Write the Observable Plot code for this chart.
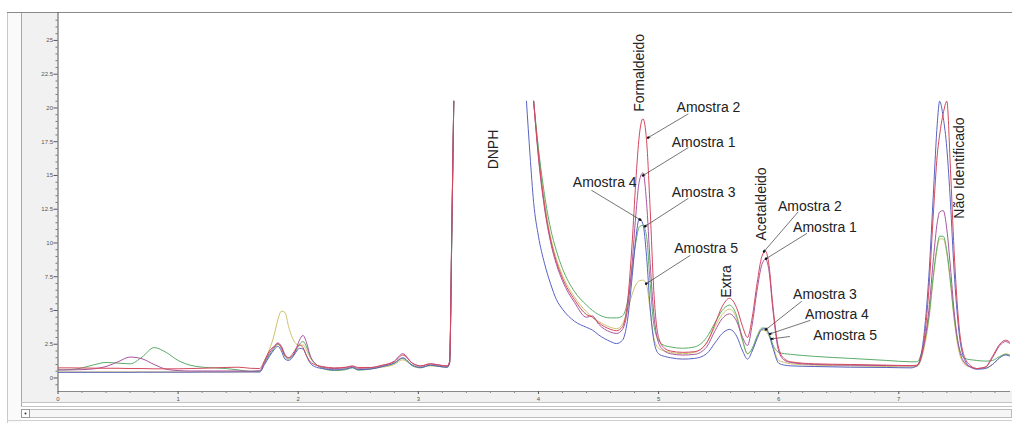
<!DOCTYPE html>
<html><head><meta charset="utf-8">
<script src="https://cdn.jsdelivr.net/npm/d3@7"></script>
<script src="https://cdn.jsdelivr.net/npm/@observablehq/plot@0.6"></script>
<style>html,body{margin:0;padding:0;background:#fff;} svg{display:block}</style>
</head><body><div id="chart"></div>
<script>
// retention time (min)
const time = [
  0, 0.1, 0.2, 0.3, 0.4, 0.5, 0.6, 0.7, 0.8, 0.9, 1.0, 1.1, 1.2, 1.3, 1.4, 1.5, 1.6,
  1.68, 1.72, 1.76, 1.8, 1.83, 1.86, 1.89, 1.92, 1.95, 1.98, 2.01, 2.04, 2.07, 2.1, 2.15, 2.2,
  2.3, 2.4, 2.45, 2.5, 2.6, 2.7, 2.8, 2.87, 2.95, 3.02, 3.1, 3.18, 3.24, 3.26, 3.28, 3.295,
  3.6,
  3.9, 3.93, 3.96, 4.0, 4.05, 4.1, 4.15, 4.2, 4.3, 4.4, 4.45, 4.5, 4.6, 4.65, 4.7,
  4.74, 4.78, 4.81, 4.84, 4.87, 4.9, 4.93, 4.96, 5.0, 5.05, 5.1,
  5.2, 5.3, 5.4, 5.47, 5.53, 5.59, 5.65, 5.7, 5.74,
  5.78, 5.82, 5.86, 5.89, 5.92, 5.95, 6.0, 6.05, 6.1,
  6.3, 6.6, 6.9, 7.1,
  7.15, 7.2, 7.25, 7.29, 7.32, 7.34, 7.37, 7.4, 7.43, 7.46, 7.5, 7.55, 7.6,
  7.65, 7.72, 7.78, 7.84, 7.89, 7.93
];
// signals (null = off-scale / not drawn)
const amostra2 = [
  0.75, 0.75, 0.74, 0.73, 0.72, 0.72, 0.7, 0.7, 0.68, 0.68, 0.68, 0.7, 0.72, 0.75, 0.78, 0.8, 0.72,
  0.7, 1.3, 2.0, 2.35, 2.55, 2.25, 1.65, 1.5, 1.75, 2.15, 2.45, 2.25, 1.65, 1.2, 0.95, 0.85,
  0.75, 0.8, 0.9, 0.78, 0.78, 0.95, 1.2, 1.7, 1.1, 0.9, 1.05, 0.95, 0.9, 1.2, 12, 20.5,
  null,
  null, null, 20.5, 16.5, 12.8, 10.3, 8.6, 7.4, 5.8, 4.7, 4.5, 4.1, 3.6, 3.5, 3.8,
  5.5, 10.0, 14.5, 18.0, 19.2, 17.6, 12.5, 6.5, 3.0, 2.2, 2.0,
  1.9, 1.95, 2.6, 4.0, 5.3, 5.9, 5.2, 3.8, 3.0,
  4.5, 7.0, 9.0, 9.4, 8.3, 5.5, 2.2, 1.4, 1.2,
  1.05, 1.0, 0.95, 0.92,
  0.95, 2.2, 6.5, 12.5, 16.5, 18.0, 19.6, 20.5, 15.5, 9.5, 4.0, 1.5, 0.9,
  0.7, 0.8, 1.6, 2.5, 2.8, 2.6
];
const amostra1 = [
  0.6, 0.6, 0.62, 0.68, 0.85, 1.2, 1.55, 1.42, 1.0, 0.65, 0.55, 0.52, 0.52, 0.52, 0.52, 0.52, 0.5,
  0.55, 1.2, 1.85, 2.3, 2.6, 2.35, 1.75, 1.5, 1.6, 2.1, 2.8, 3.15, 2.6, 1.65, 1.0, 0.8,
  0.7, 0.78, 0.85, 0.72, 0.75, 0.92, 1.25, 1.8, 1.1, 0.88, 1.05, 0.95, 0.88, 1.2, 12, 20.5,
  null,
  null, null, 20.5, 16.3, 12.6, 10.1, 8.4, 7.2, 5.6, 4.5, 4.6, 4.0, 3.4, 3.3, 3.6,
  5.0, 8.5, 12.0, 14.6, 15.2, 13.0, 8.5, 4.8, 2.6, 2.0, 1.8,
  1.7, 1.75, 2.3, 3.5, 4.4, 4.75, 4.2, 3.0, 2.4,
  4.0, 6.5, 8.4, 8.8, 7.9, 5.2, 2.0, 1.3, 1.15,
  1.0, 0.95, 0.92, 0.9,
  0.9, 2.0, 5.0, 9.0, 11.5, 12.3, 12.4, 11.0, 8.2, 5.0, 2.3, 1.1, 0.8,
  0.7, 0.8, 1.5, 2.4, 2.7, 2.5
];
const amostra4 = [
  0.42, 0.42, 0.42, 0.42, 0.42, 0.42, 0.42, 0.43, 0.43, 0.43, 0.43, 0.43, 0.44, 0.44, 0.44, 0.45, 0.45,
  0.45, 1.0, 1.6, 2.1, 2.35, 2.0, 1.4, 1.3, 1.5, 1.9, 2.2, 2.15, 1.6, 1.1, 0.8, 0.7,
  0.6, 0.68, 0.78, 0.62, 0.66, 0.85, 1.1, 1.5, 0.95, 0.78, 0.95, 0.85, 0.8, 1.1, 11.5, 20.5,
  null,
  20.5, 16.5, 13.0, 10.5, 8.5, 7.0, 5.8, 5.1, 4.2, 3.75, 3.55, 3.2, 2.7, 2.55, 2.8,
  4.2, 7.5, 10.3, 11.8, 11.4, 9.0, 5.2, 2.8, 1.8, 1.6, 1.5,
  1.4, 1.45, 1.8, 2.6, 3.3, 3.6, 3.1, 2.0, 1.4,
  2.0, 2.9, 3.6, 3.65, 3.2, 2.3, 1.1, 0.95, 0.9,
  0.85, 0.8, 0.78, 0.75,
  0.9, 2.5, 7.5, 14.0, 18.8, 20.5, 19.3, 17.0, 13.0, 8.0, 3.5, 1.3, 0.8,
  0.65, 0.7, 1.0, 1.5, 1.7, 1.6
];
const amostra3 = [
  0.6, 0.62, 0.75, 0.98, 1.15, 1.1, 1.05, 1.55, 2.25, 1.9, 1.3, 0.95, 0.8, 0.75, 0.7, 0.6, 0.5,
  0.5, 1.1, 1.7, 2.2, 2.5, 2.2, 1.6, 1.4, 1.6, 2.0, 2.5, 2.7, 2.3, 1.6, 1.0, 0.72,
  0.55, 0.62, 0.75, 0.58, 0.66, 0.85, 1.1, 1.45, 0.9, 0.75, 0.95, 0.85, 0.8, 1.1, 11.5, 20.5,
  null,
  null, null, 20.5, 17.0, 13.6, 11.1, 9.4, 8.1, 6.4, 5.4, 5.0, 4.7, 4.45, 4.45, 4.6,
  5.6, 8.0, 10.0, 11.2, 11.3, 10.5, 7.0, 4.0, 2.8, 2.4, 2.3,
  2.2, 2.3, 3.0, 4.1, 5.0, 5.4, 4.6, 2.8, 1.8,
  2.2, 3.1, 3.7, 3.7, 3.3, 2.5, 1.9, 1.8, 1.75,
  1.6, 1.45, 1.3, 1.2,
  1.2, 2.2, 4.5, 7.8, 9.8, 10.5, 10.5, 9.4, 7.2, 4.6, 2.3, 1.45, 1.35,
  1.3, 1.25, 1.3, 1.6, 1.75, 1.65
];
const amostra5 = [
  0.45, 0.45, 0.45, 0.45, 0.45, 0.45, 0.45, 0.45, 0.45, 0.45, 0.45, 0.45, 0.45, 0.45, 0.45, 0.45, 0.45,
  0.45, 1.3, 2.1, 3.2, 4.3, 4.95, 4.85, 3.8, 3.0, 2.55, 2.4, 2.45, 2.05, 1.5, 1.0, 0.8,
  0.65, 0.72, 0.8, 0.66, 0.7, 0.8, 1.0, 1.35, 0.95, 0.8, 0.9, 0.85, 0.8, 1.1, 11.5, 20.5,
  null,
  null, null, 20.5, 16.8, 13.1, 10.5, 8.8, 7.6, 6.0, 4.9, 4.5, 4.2, 3.75, 3.65, 4.0,
  5.0, 6.2, 6.9, 7.2, 7.25, 6.9, 5.0, 3.0, 2.2, 2.0, 1.9,
  1.8, 1.9, 2.6, 3.8, 4.7, 5.1, 4.4, 2.7, 1.8,
  2.1, 3.0, 3.55, 3.5, 3.1, 2.4, 1.3, 1.15, 1.05,
  0.95, 0.9, 0.85, 0.82,
  0.85, 1.8, 4.3, 7.6, 9.6, 10.3, 10.3, 9.2, 7.0, 4.4, 2.0, 1.0, 0.8,
  0.7, 0.75, 1.0, 1.5, 1.8, 1.7
];
const seriesNames = ["Amostra 5", "Amostra 3", "Amostra 4", "Amostra 1", "Amostra 2"];
const seriesColors = ["#cdc36c", "#5cad68", "#5a62c2", "#a9559f", "#d4485c"];
const seriesValues = [amostra5, amostra3, amostra4, amostra1, amostra2];

// tick values
const yMajor = [0, 2.5, 5, 7.5, 10, 12.5, 15, 17.5, 20, 22.5, 25];
const xMajor = [0, 1, 2, 3, 4, 5, 6, 7];

// peak names (vertical labels)
const peakLabels = [
  {label: "DNPH", t: 3.623, v: 16.92},
  {label: "Formaldeido", t: 4.845, v: 22.6},
  {label: "Extra", t: 5.567, v: 7.15},
  {label: "Acetaldeido", t: 5.861, v: 12.89},
  {label: "Não Identificado", t: 7.508, v: 15.55}
];
// sample callouts: label position, arrow start, arrow target
const callouts = [
  {label: "Amostra 2", t: 5.15, v: 20.0, t1: 5.245, v1: 19.55, t2: 4.913, v2: 17.8},
  {label: "Amostra 1", t: 5.11, v: 17.46, t1: 5.245, v1: 17.05, t2: 4.871, v2: 15.0},
  {label: "Amostra 4", t: 4.286, v: 14.5, t1: 4.444, v1: 13.89, t2: 4.847, v2: 11.72},
  {label: "Amostra 3", t: 5.11, v: 13.76, t1: 5.245, v1: 13.29, t2: 4.888, v2: 11.24},
  {label: "Amostra 5", t: 5.13, v: 9.57, t1: 5.262, v1: 9.07, t2: 4.896, v2: 6.98},
  {label: "Amostra 2", t: 5.994, v: 12.7, t1: 6.16, v1: 12.28, t2: 5.878, v2: 9.37},
  {label: "Amostra 1", t: 6.12, v: 11.17, t1: 6.233, v1: 10.7, t2: 5.894, v2: 8.83},
  {label: "Amostra 3", t: 6.12, v: 6.16, t1: 6.19, v1: 5.67, t2: 5.894, v2: 3.59},
  {label: "Amostra 4", t: 6.22, v: 4.68, t1: 6.26, v1: 4.26, t2: 5.928, v2: 3.27},
  {label: "Amostra 5", t: 6.288, v: 3.15, t1: 6.09, v1: 3.07, t2: 5.942, v2: 2.9}
];

const rows = seriesNames.flatMap((name, k) =>
  time.map((t, i) => ({t, v: seriesValues[k][i], s: name})));

const problems = seriesValues.map((a, k) => a.length !== time.length ? seriesNames[k] + ":" + a.length : null).filter(Boolean);

const yMinor = d3.range(-0.5, 27, 0.5).filter(v => !yMajor.includes(v));
const xMinor = d3.range(0.2, 7.95, 0.2).map(v => +v.toFixed(1)).filter(v => !xMajor.includes(v));

const font = "'Liberation Sans', Arial, Helvetica, sans-serif";

const plot = Plot.plot({
  width: 1012,
  height: 423,
  marginLeft: 57.5,
  marginRight: 2,
  marginTop: 12,
  marginBottom: 32,
  style: {fontFamily: font, background: "transparent", overflow: "visible"},
  x: {domain: [0, 7.93], axis: null},
  y: {domain: [-1, 27.07], axis: null},
  color: {domain: seriesNames, range: seriesColors},
  marks: [
    Plot.ruleX([0], {stroke: "#555", strokeWidth: 1}),
    Plot.ruleY([-1], {stroke: "#8a8a8a", strokeWidth: 1}),
    Plot.axisY(yMajor, {anchor: "left", tickSize: 4, tickPadding: 1, fontSize: 6, color: "#555", label: null, tickFormat: d => String(d)}),
    Plot.axisY(yMinor, {anchor: "left", tickSize: 2, fontSize: 6, color: "#777", label: null, tickFormat: () => ""}),
    Plot.axisX(xMajor, {anchor: "bottom", tickSize: 3, tickPadding: 2, fontSize: 6, color: "#555", label: null, tickFormat: d => String(d)}),
    Plot.axisX(xMinor, {anchor: "bottom", tickSize: 2, color: "#888", label: null, tickFormat: () => ""}),
    Plot.line(rows, {x: "t", y: "v", z: "s", stroke: "s", strokeWidth: 1, curve: "monotone-x", clip: true}),
    Plot.arrow(callouts, {x1: "t1", y1: "v1", x2: "t2", y2: "v2", stroke: "#3a3a3a", strokeWidth: 0.7, headLength: 4, headAngle: 50}),
    Plot.dot(callouts, {x: "t2", y: "v2", r: 1.2, fill: "#111"}),
    Plot.text(callouts, {x: "t", y: "v", text: "label", textAnchor: "start", fontSize: 14, fill: "#222"}),
    Plot.text(peakLabels, {x: "t", y: "v", text: "label", rotate: -90, textAnchor: "middle", fontSize: 14, fill: "#222"})
  ]
});

// window chrome (panels, scrollbar) behind the chart
const svg = d3.select(plot);
const g = svg.insert("g", ":first-child");
g.append("rect").attr("x", 0).attr("y", 0).attr("width", 1012).attr("height", 423).attr("fill", "#fff");
g.append("rect").attr("x", 7).attr("y", 12).attr("width", 14).attr("height", 411).attr("fill", "#fafafa");
g.append("rect").attr("x", 21).attr("y", 12).attr("width", 36.5).attr("height", 379).attr("fill", "#f1f1f1");
g.append("rect").attr("x", 21).attr("y", 391).attr("width", 991).attr("height", 11).attr("fill", "#f1f1f1");
g.append("line").attr("x1", 7.5).attr("x2", 7.5).attr("y1", 12).attr("y2", 423).attr("stroke", "#c8c8c8");
g.append("line").attr("x1", 21.5).attr("x2", 21.5).attr("y1", 12).attr("y2", 406).attr("stroke", "#a8a8a8");
g.append("line").attr("x1", 7).attr("x2", 1012).attr("y1", 12.5).attr("y2", 12.5).attr("stroke", "#8a8a8a");
g.append("line").attr("x1", 21).attr("x2", 1012).attr("y1", 402.5).attr("y2", 402.5).attr("stroke", "#c4c4c4");
g.append("line").attr("x1", 21).attr("x2", 1012).attr("y1", 406.5).attr("y2", 406.5).attr("stroke", "#c4c4c4");
g.append("rect").attr("x", 21.5).attr("y", 409.5).attr("width", 990).attr("height", 8).attr("fill", "#f6f6f6").attr("stroke", "#bdbdbd");
g.append("rect").attr("x", 21.5).attr("y", 409.5).attr("width", 8).attr("height", 8).attr("fill", "#fff").attr("stroke", "#999");
g.append("circle").attr("cx", 25.5).attr("cy", 413.5).attr("r", 1).attr("fill", "#333");
g.append("line").attr("x1", 7).attr("x2", 1012).attr("y1", 420.5).attr("y2", 420.5).attr("stroke", "#d0d0d0");

document.getElementById("chart").append(plot);
if (problems.length) {
  const p = document.createElement("div");
  p.textContent = "LENGTH MISMATCH " + time.length + " " + problems.join(" ");
  p.style.cssText = "position:absolute;top:0;left:100px;color:red;font:14px sans-serif";
  document.body.append(p);
}
</script></body></html>
